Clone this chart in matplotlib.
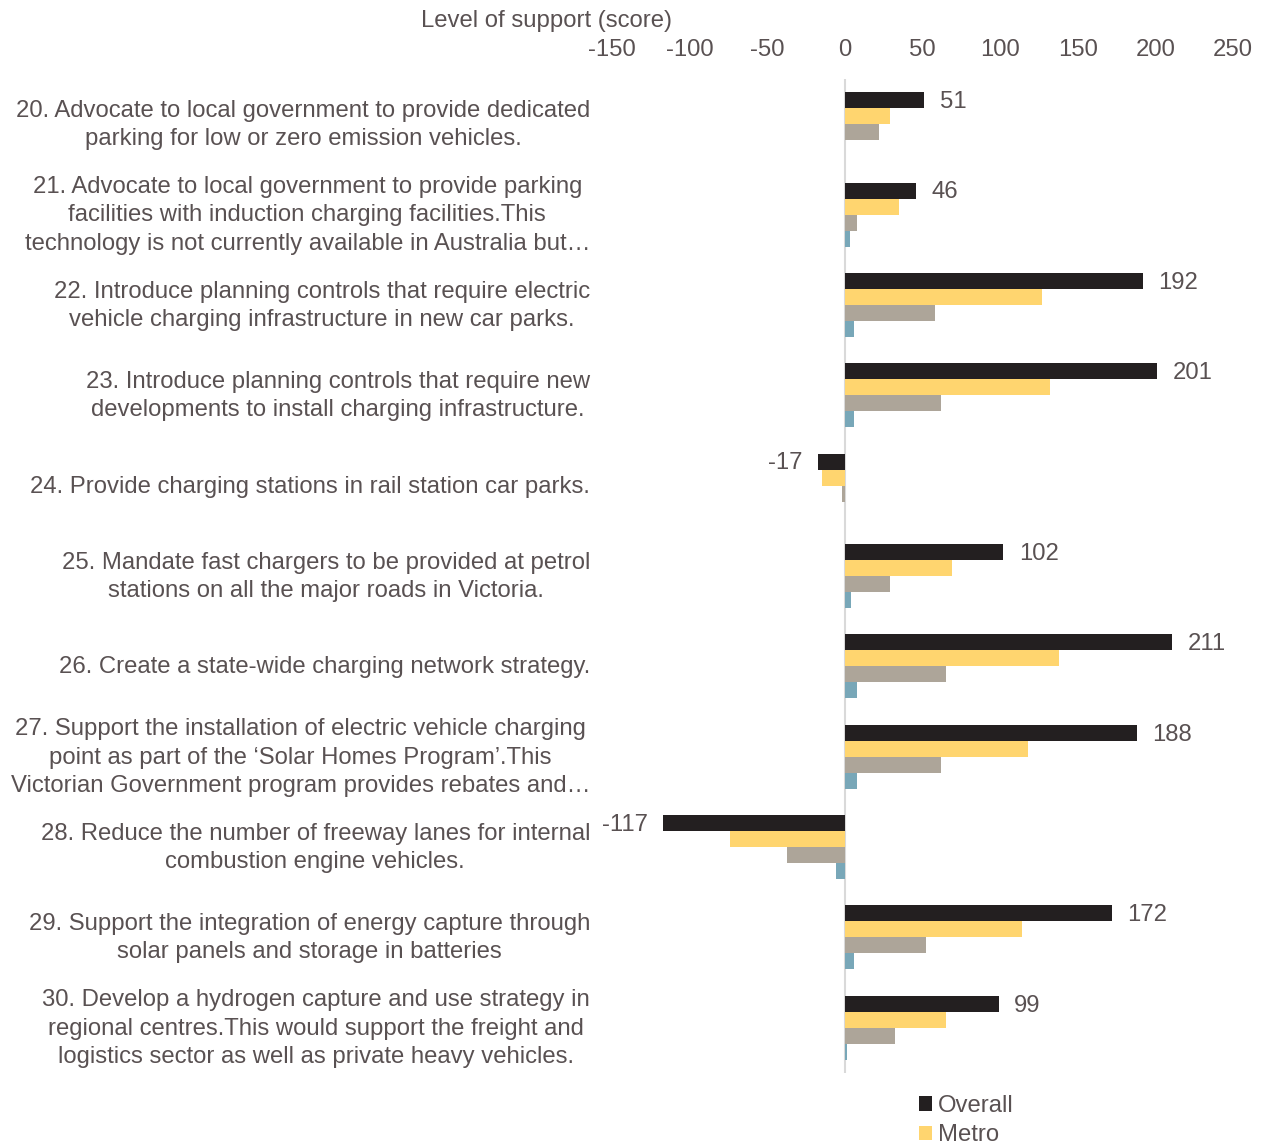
import numpy as np
import matplotlib.pyplot as plt

plt.rcParams['font.family'] = ['Liberation Sans', 'DejaVu Sans']
plt.rcParams['axes.unicode_minus'] = False

# Data
labels = [
    "20. Advocate to local government to provide dedicated\nparking for low or zero emission vehicles.",
    "21. Advocate to local government to provide parking\nfacilities with induction charging facilities.This\ntechnology is not currently available in Australia but\u2026",
    "22. Introduce planning controls that require electric\nvehicle charging infrastructure in new car parks.",
    "23. Introduce planning controls that require new\ndevelopments to install charging infrastructure.",
    "24. Provide charging stations in rail station car parks.",
    "25. Mandate fast chargers to be provided at petrol\nstations on all the major roads in Victoria.",
    "26. Create a state-wide charging network strategy.",
    "27. Support the installation of electric vehicle charging\npoint as part of the \u2018Solar Homes Program\u2019.This\nVictorian Government program provides rebates and\u2026",
    "28. Reduce the number of freeway lanes for internal\ncombustion engine vehicles.",
    "29. Support the integration of energy capture through\nsolar panels and storage in batteries",
    "30. Develop a hydrogen capture and use strategy in\nregional centres.This would support the freight and\nlogistics sector as well as private heavy vehicles.",
]
overall = [51, 46, 192, 201, -17, 102, 211, 188, -117, 172, 99]
metro = [29, 35, 127, 132, -15, 69, 138, 118, -74, 114, 65]
regional = [22, 8, 58, 62, -2, 29, 65, 62, -37, 52, 32]
other = [0, 3, 6, 6, 0, 4, 8, 8, -6, 6, 1.5]

series = [("Overall", overall, "#231f20"),
          ("Metro", metro, "#ffd56f"),
          ("Regional", regional, "#ada599"),
          ("Other", other, "#78a7b8")]

text_col = "#595152"
fs = 17.2

fig = plt.figure(figsize=(12.69, 11.44), dpi=100)
ax = fig.add_axes([0.4823, 0.0621, 0.4893, 0.8688])

y = np.arange(len(labels))
h = 0.177
handles = []
for i, (name, vals, col) in enumerate(series):
    b = ax.barh(y + (i - 1.5) * h, vals, height=h, color=col, label=name)
    handles.append(b)

# data labels for Overall
for yi, v in zip(y, overall):
    yy = yi - 1.5 * h + 0.02
    if v >= 0:
        ax.text(v + 10, yy, str(v), va='center', ha='left', fontsize=fs, color=text_col)
    else:
        ax.text(v - 10, yy, str(v), va='center', ha='right', fontsize=fs, color=text_col)

ax.set_xlim(-150, 250)
ax.set_ylim(len(labels) - 0.5, -0.5)
ax.set_xticks(range(-150, 251, 50))
ax.xaxis.tick_top()
ax.tick_params(axis='x', length=0, labelsize=fs, labelcolor=text_col, pad=13)
ax.set_yticks([])

# category labels, right edge at x=590 px
for yi, lab in zip(y, labels):
    ax.text(-22 / 621, yi + 0.01, lab, transform=ax.get_yaxis_transform(),
            ha='right', va='center', multialignment='center', linespacing=1.37,
            fontsize=fs, color=text_col)

for s in ax.spines.values():
    s.set_visible(False)
ax.axvline(0, color="#d9d9d9", lw=1.5, zorder=0)

fig.text(421 / 1269, 1 - 21 / 1144, "Level of support (score)", fontsize=fs,
         color=text_col, ha='left', va='center')

fig.legend(handles=handles[:2], loc='upper left', bbox_to_anchor=(919 / 1269, 1 - 1095 / 1144),
           frameon=False, fontsize=fs, handlelength=0.55, handleheight=0.55, handletextpad=0.25,
           labelspacing=0.3, borderaxespad=0, borderpad=0, labelcolor=text_col)

fig.savefig("out.png", dpi=100)
